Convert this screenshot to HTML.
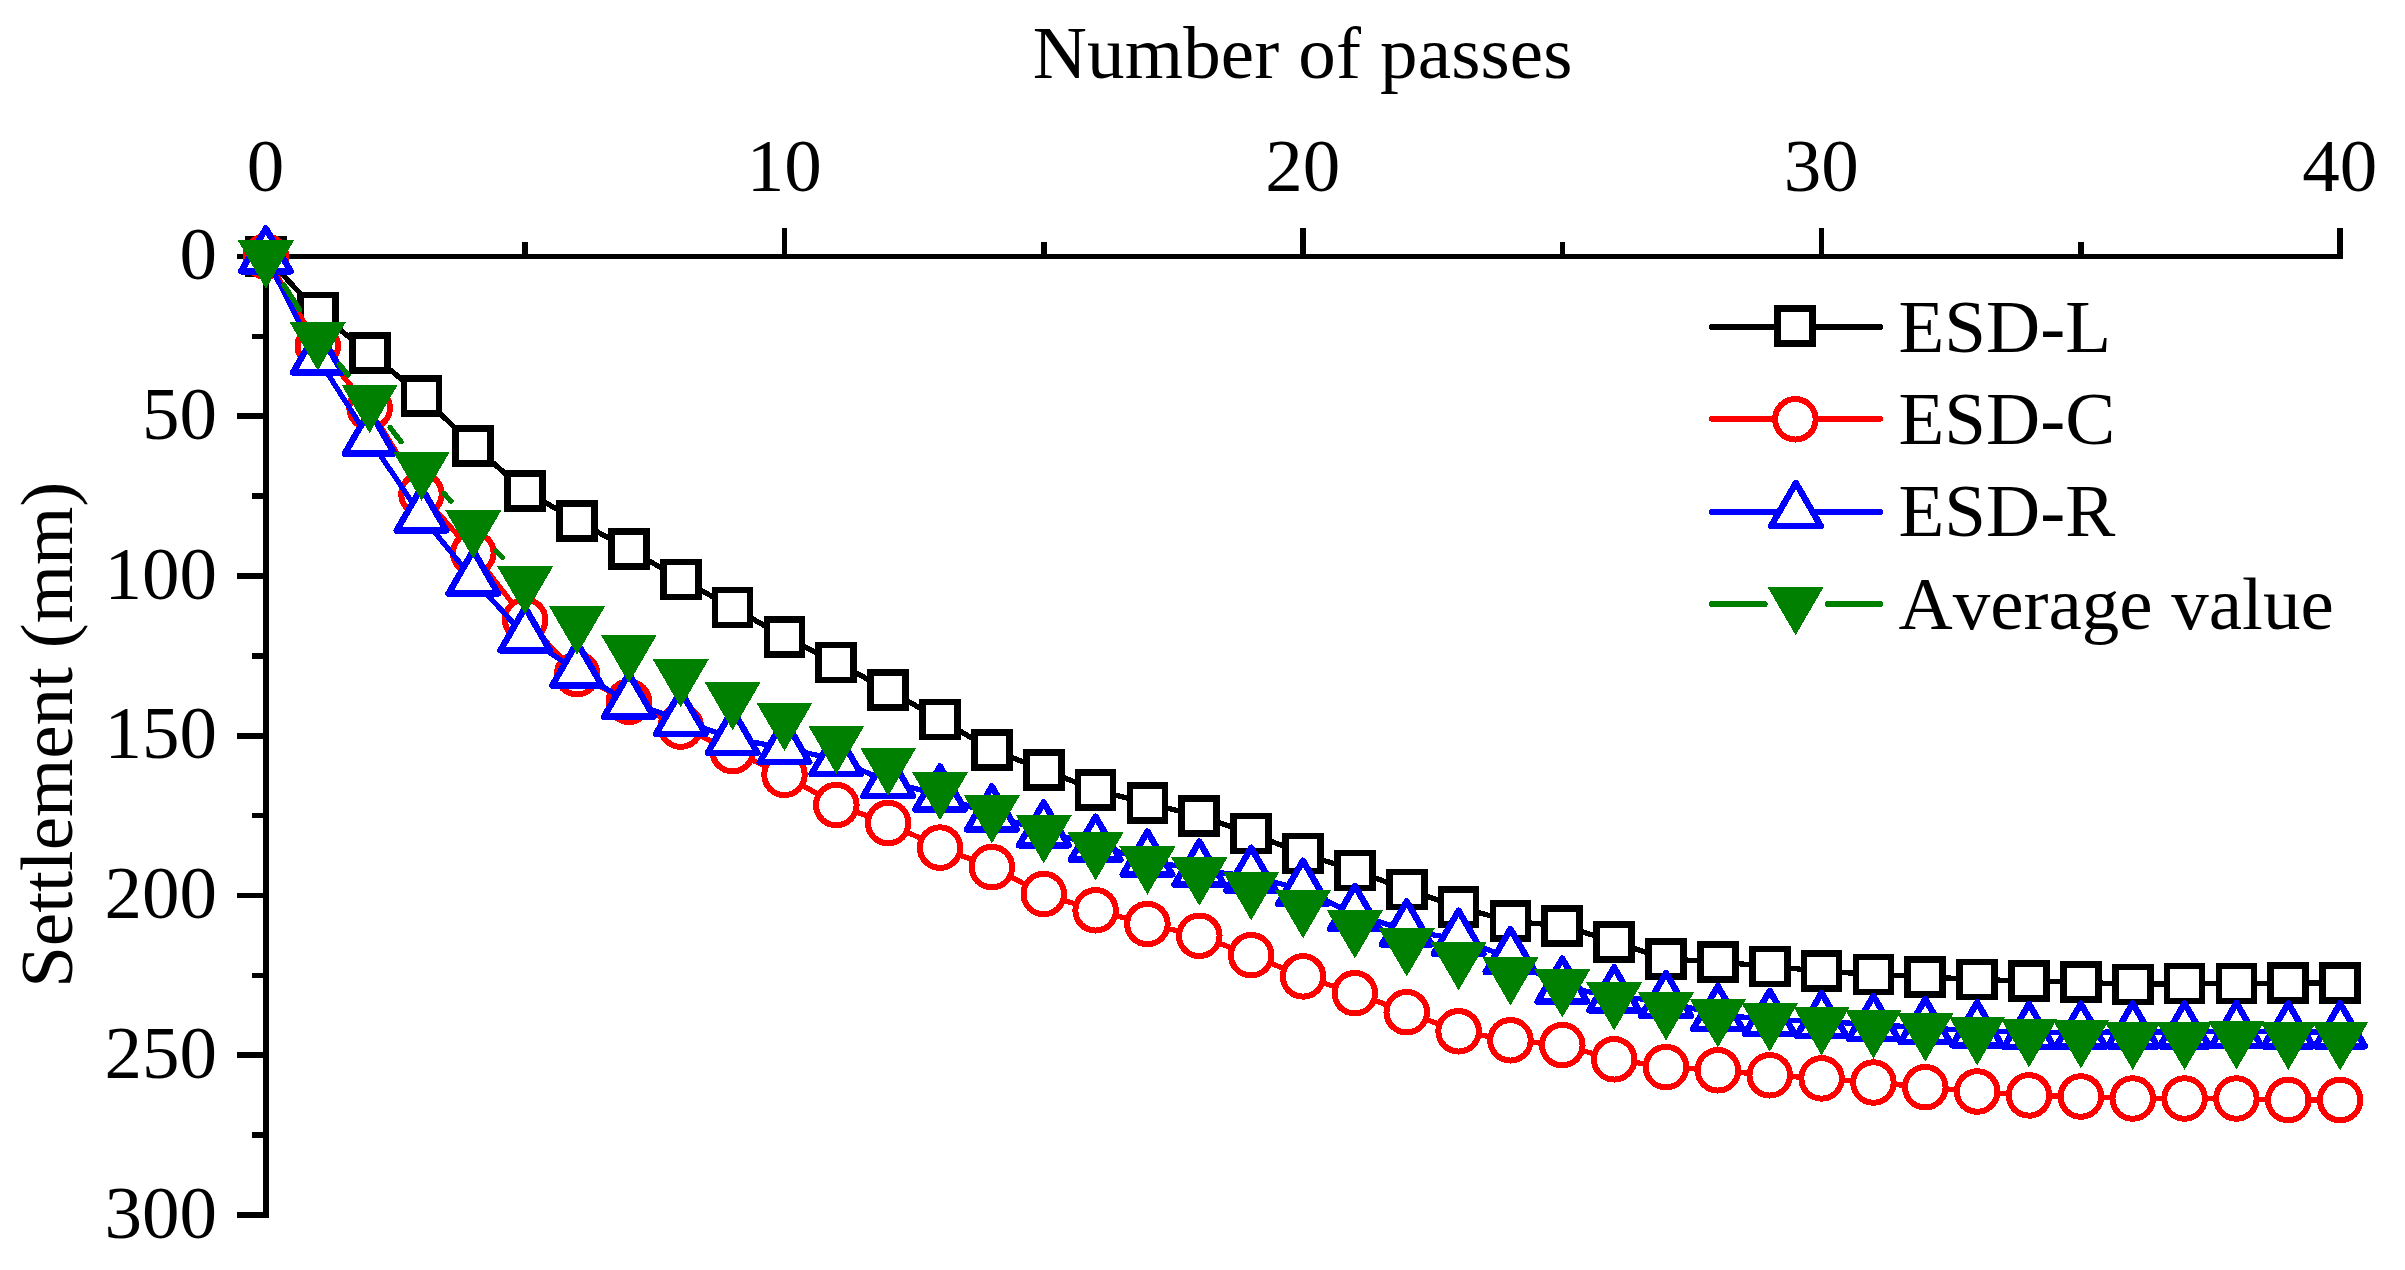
<!DOCTYPE html>
<html lang="en"><head><meta charset="utf-8"><title>Settlement vs number of passes</title>
<style>
html,body{margin:0;padding:0;background:#fff;}
body{width:2405px;height:1270px;overflow:hidden;}
svg{display:block;}
rect,line,polyline,polygon,circle,path{shape-rendering:crispEdges;}
text{font-family:"Liberation Serif",serif;font-size:75px;fill:#000;font-kerning:none;}
.ax{fill:#000;}
.ln{fill:none;stroke-width:5.3;stroke-linejoin:round;stroke-linecap:round;}
.mk{stroke-width:6.2;}.sq{stroke-width:6.8;}.ci{stroke-width:6;}.tu{stroke-width:6.4;}.lg{stroke-width:6;}
</style></head><body>
<svg width="2405" height="1270" viewBox="0 0 2405 1270">
<rect width="2405" height="1270" fill="#fff"/>
<g class="ax">
<rect x="263.1" y="254" width="2079.84" height="5.2"/>
<rect x="263.1" y="254" width="6" height="963.8"/>
<rect x="263.1" y="228" width="5.6" height="28.5"/>
<rect x="522.38" y="242.3" width="5.6" height="14.2"/>
<rect x="781.66" y="228" width="5.6" height="28.5"/>
<rect x="1040.94" y="242.3" width="5.6" height="14.2"/>
<rect x="1300.22" y="228" width="5.6" height="28.5"/>
<rect x="1559.5" y="242.3" width="5.6" height="14.2"/>
<rect x="1818.78" y="228" width="5.6" height="28.5"/>
<rect x="2078.06" y="242.3" width="5.6" height="14.2"/>
<rect x="2337.34" y="228" width="5.6" height="28.5"/>
<rect x="237" y="253.7" width="28.9" height="5.6"/>
<rect x="252" y="333.57" width="13.9" height="5.6"/>
<rect x="237" y="413.45" width="28.9" height="5.6"/>
<rect x="252" y="493.32" width="13.9" height="5.6"/>
<rect x="237" y="573.2" width="28.9" height="5.6"/>
<rect x="252" y="653.08" width="13.9" height="5.6"/>
<rect x="237" y="732.95" width="28.9" height="5.6"/>
<rect x="252" y="812.83" width="13.9" height="5.6"/>
<rect x="237" y="892.7" width="28.9" height="5.6"/>
<rect x="252" y="972.58" width="13.9" height="5.6"/>
<rect x="237" y="1052.45" width="28.9" height="5.6"/>
<rect x="252" y="1132.33" width="13.9" height="5.6"/>
<rect x="237" y="1212.2" width="28.9" height="5.6"/>
</g>
<g text-anchor="middle">
<text x="265.6" y="190.7">0</text>
<text x="784.16" y="190.7">10</text>
<text x="1302.72" y="190.7">20</text>
<text x="1821.28" y="190.7">30</text>
<text x="2339.84" y="190.7">40</text>
<text x="1302.7" y="77.7" style="letter-spacing:0.16px">Number of passes</text>
<text transform="translate(72.3 734.8) rotate(-90)">Settlement (mm)</text>
</g>
<g text-anchor="end">
<text x="216.9" y="279.2">0</text>
<text x="216.9" y="438.95">50</text>
<text x="216.9" y="598.7">100</text>
<text x="216.9" y="758.45">150</text>
<text x="216.9" y="918.2">200</text>
<text x="216.9" y="1077.95">250</text>
<text x="216.9" y="1237.7">300</text>
</g>
<g stroke="#000000">
<polyline class="ln" points="265.9,256.5 317.76,312.5 369.61,353 421.47,395.6 473.32,445.6 525.18,491 577.04,520.8 628.89,549 680.75,579.4 732.6,607.5 784.46,637 836.32,662.5 888.17,690.1 940.03,719.4 991.88,749.7 1043.74,769.9 1095.6,790 1147.45,803.3 1199.31,816 1251.16,833.6 1303.02,853.6 1354.88,870.6 1406.73,889.4 1458.59,907.1 1510.44,921.3 1562.3,925.7 1614.16,941.7 1666.01,958.9 1717.87,961.9 1769.72,966.4 1821.58,971.1 1873.44,974.5 1925.29,976.8 1977.15,979.5 2029,981 2080.86,982.1 2132.72,984.6 2184.57,983.4 2236.43,983.4 2288.28,983.1 2340.14,983.1"/>
<g class="mk" fill="#fff" stroke-linejoin="miter">
<rect class="sq" x="248.4" y="239" width="35" height="35"/>
<rect class="sq" x="300.26" y="295" width="35" height="35"/>
<rect class="sq" x="352.11" y="335.5" width="35" height="35"/>
<rect class="sq" x="403.97" y="378.1" width="35" height="35"/>
<rect class="sq" x="455.82" y="428.1" width="35" height="35"/>
<rect class="sq" x="507.68" y="473.5" width="35" height="35"/>
<rect class="sq" x="559.54" y="503.3" width="35" height="35"/>
<rect class="sq" x="611.39" y="531.5" width="35" height="35"/>
<rect class="sq" x="663.25" y="561.9" width="35" height="35"/>
<rect class="sq" x="715.1" y="590" width="35" height="35"/>
<rect class="sq" x="766.96" y="619.5" width="35" height="35"/>
<rect class="sq" x="818.82" y="645" width="35" height="35"/>
<rect class="sq" x="870.67" y="672.6" width="35" height="35"/>
<rect class="sq" x="922.53" y="701.9" width="35" height="35"/>
<rect class="sq" x="974.38" y="732.2" width="35" height="35"/>
<rect class="sq" x="1026.24" y="752.4" width="35" height="35"/>
<rect class="sq" x="1078.1" y="772.5" width="35" height="35"/>
<rect class="sq" x="1129.95" y="785.8" width="35" height="35"/>
<rect class="sq" x="1181.81" y="798.5" width="35" height="35"/>
<rect class="sq" x="1233.66" y="816.1" width="35" height="35"/>
<rect class="sq" x="1285.52" y="836.1" width="35" height="35"/>
<rect class="sq" x="1337.38" y="853.1" width="35" height="35"/>
<rect class="sq" x="1389.23" y="871.9" width="35" height="35"/>
<rect class="sq" x="1441.09" y="889.6" width="35" height="35"/>
<rect class="sq" x="1492.94" y="903.8" width="35" height="35"/>
<rect class="sq" x="1544.8" y="908.2" width="35" height="35"/>
<rect class="sq" x="1596.66" y="924.2" width="35" height="35"/>
<rect class="sq" x="1648.51" y="941.4" width="35" height="35"/>
<rect class="sq" x="1700.37" y="944.4" width="35" height="35"/>
<rect class="sq" x="1752.22" y="948.9" width="35" height="35"/>
<rect class="sq" x="1804.08" y="953.6" width="35" height="35"/>
<rect class="sq" x="1855.94" y="957" width="35" height="35"/>
<rect class="sq" x="1907.79" y="959.3" width="35" height="35"/>
<rect class="sq" x="1959.65" y="962" width="35" height="35"/>
<rect class="sq" x="2011.5" y="963.5" width="35" height="35"/>
<rect class="sq" x="2063.36" y="964.6" width="35" height="35"/>
<rect class="sq" x="2115.22" y="967.1" width="35" height="35"/>
<rect class="sq" x="2167.07" y="965.9" width="35" height="35"/>
<rect class="sq" x="2218.93" y="965.9" width="35" height="35"/>
<rect class="sq" x="2270.78" y="965.6" width="35" height="35"/>
<rect class="sq" x="2322.64" y="965.6" width="35" height="35"/>
</g></g>
<g stroke="#ff0000">
<polyline class="ln" points="265.9,256.5 317.76,346 369.61,408 421.47,494 473.32,553 525.18,619.8 577.04,674.2 628.89,701.7 680.75,726.6 732.6,751.1 784.46,774.8 836.32,805 888.17,823 940.03,847.6 991.88,867.1 1043.74,894 1095.6,910.3 1147.45,924 1199.31,935.8 1251.16,955.2 1303.02,976.4 1354.88,993.2 1406.73,1012.2 1458.59,1031.3 1510.44,1040.3 1562.3,1045.1 1614.16,1059.3 1666.01,1067.1 1717.87,1070.3 1769.72,1075.3 1821.58,1078.4 1873.44,1082.5 1925.29,1087.2 1977.15,1091.5 2029,1095.4 2080.86,1096.5 2132.72,1098.5 2184.57,1098.5 2236.43,1098.5 2288.28,1100 2340.14,1100"/>
<g class="mk" fill="#fff" stroke-linejoin="round">
<circle class="ci" cx="265.9" cy="256.5" r="20.25"/>
<circle class="ci" cx="317.76" cy="346" r="20.25"/>
<circle class="ci" cx="369.61" cy="408" r="20.25"/>
<circle class="ci" cx="421.47" cy="494" r="20.25"/>
<circle class="ci" cx="473.32" cy="553" r="20.25"/>
<circle class="ci" cx="525.18" cy="619.8" r="20.25"/>
<circle class="ci" cx="577.04" cy="674.2" r="20.25"/>
<circle class="ci" cx="628.89" cy="701.7" r="20.25"/>
<circle class="ci" cx="680.75" cy="726.6" r="20.25"/>
<circle class="ci" cx="732.6" cy="751.1" r="20.25"/>
<circle class="ci" cx="784.46" cy="774.8" r="20.25"/>
<circle class="ci" cx="836.32" cy="805" r="20.25"/>
<circle class="ci" cx="888.17" cy="823" r="20.25"/>
<circle class="ci" cx="940.03" cy="847.6" r="20.25"/>
<circle class="ci" cx="991.88" cy="867.1" r="20.25"/>
<circle class="ci" cx="1043.74" cy="894" r="20.25"/>
<circle class="ci" cx="1095.6" cy="910.3" r="20.25"/>
<circle class="ci" cx="1147.45" cy="924" r="20.25"/>
<circle class="ci" cx="1199.31" cy="935.8" r="20.25"/>
<circle class="ci" cx="1251.16" cy="955.2" r="20.25"/>
<circle class="ci" cx="1303.02" cy="976.4" r="20.25"/>
<circle class="ci" cx="1354.88" cy="993.2" r="20.25"/>
<circle class="ci" cx="1406.73" cy="1012.2" r="20.25"/>
<circle class="ci" cx="1458.59" cy="1031.3" r="20.25"/>
<circle class="ci" cx="1510.44" cy="1040.3" r="20.25"/>
<circle class="ci" cx="1562.3" cy="1045.1" r="20.25"/>
<circle class="ci" cx="1614.16" cy="1059.3" r="20.25"/>
<circle class="ci" cx="1666.01" cy="1067.1" r="20.25"/>
<circle class="ci" cx="1717.87" cy="1070.3" r="20.25"/>
<circle class="ci" cx="1769.72" cy="1075.3" r="20.25"/>
<circle class="ci" cx="1821.58" cy="1078.4" r="20.25"/>
<circle class="ci" cx="1873.44" cy="1082.5" r="20.25"/>
<circle class="ci" cx="1925.29" cy="1087.2" r="20.25"/>
<circle class="ci" cx="1977.15" cy="1091.5" r="20.25"/>
<circle class="ci" cx="2029" cy="1095.4" r="20.25"/>
<circle class="ci" cx="2080.86" cy="1096.5" r="20.25"/>
<circle class="ci" cx="2132.72" cy="1098.5" r="20.25"/>
<circle class="ci" cx="2184.57" cy="1098.5" r="20.25"/>
<circle class="ci" cx="2236.43" cy="1098.5" r="20.25"/>
<circle class="ci" cx="2288.28" cy="1100" r="20.25"/>
<circle class="ci" cx="2340.14" cy="1100" r="20.25"/>
</g></g>
<g stroke="#0000ff">
<polyline class="ln" points="265.9,257 317.76,358.2 369.61,439.2 421.47,516.2 473.32,579.2 525.18,636.1 577.04,671.1 628.89,702.3 680.75,719.7 732.6,738.4 784.46,747.9 836.32,759.6 888.17,781.6 940.03,795.1 991.88,815.1 1043.74,831 1095.6,845.3 1147.45,860.2 1199.31,870.2 1251.16,876.4 1303.02,889.4 1354.88,914.6 1406.73,930.1 1458.59,939.3 1510.44,957.7 1562.3,987.3 1614.16,996 1666.01,1001.6 1717.87,1014.8 1769.72,1019.5 1821.58,1021.5 1873.44,1024.5 1925.29,1027.7 1977.15,1031 2029,1032.5 2080.86,1032.3 2132.72,1032 2184.57,1032 2236.43,1031.5 2288.28,1032 2340.14,1032"/>
<g class="mk" fill="#fff" stroke-linejoin="round">
<polygon class="tu" points="265.9,228.36 290.7,271.32 241.1,271.32"/>
<polygon class="tu" points="317.76,329.56 342.56,372.52 292.96,372.52"/>
<polygon class="tu" points="369.61,410.56 394.41,453.52 344.81,453.52"/>
<polygon class="tu" points="421.47,487.56 446.27,530.52 396.67,530.52"/>
<polygon class="tu" points="473.32,550.56 498.12,593.52 448.52,593.52"/>
<polygon class="tu" points="525.18,607.46 549.98,650.42 500.38,650.42"/>
<polygon class="tu" points="577.04,642.46 601.84,685.42 552.24,685.42"/>
<polygon class="tu" points="628.89,673.66 653.69,716.62 604.09,716.62"/>
<polygon class="tu" points="680.75,691.06 705.55,734.02 655.95,734.02"/>
<polygon class="tu" points="732.6,709.76 757.4,752.72 707.8,752.72"/>
<polygon class="tu" points="784.46,719.26 809.26,762.22 759.66,762.22"/>
<polygon class="tu" points="836.32,730.96 861.12,773.92 811.52,773.92"/>
<polygon class="tu" points="888.17,752.96 912.97,795.92 863.37,795.92"/>
<polygon class="tu" points="940.03,766.46 964.83,809.42 915.23,809.42"/>
<polygon class="tu" points="991.88,786.46 1016.68,829.42 967.08,829.42"/>
<polygon class="tu" points="1043.74,802.36 1068.54,845.32 1018.94,845.32"/>
<polygon class="tu" points="1095.6,816.66 1120.4,859.62 1070.8,859.62"/>
<polygon class="tu" points="1147.45,831.56 1172.25,874.52 1122.65,874.52"/>
<polygon class="tu" points="1199.31,841.56 1224.11,884.52 1174.51,884.52"/>
<polygon class="tu" points="1251.16,847.76 1275.96,890.72 1226.36,890.72"/>
<polygon class="tu" points="1303.02,860.76 1327.82,903.72 1278.22,903.72"/>
<polygon class="tu" points="1354.88,885.96 1379.68,928.92 1330.08,928.92"/>
<polygon class="tu" points="1406.73,901.46 1431.53,944.42 1381.93,944.42"/>
<polygon class="tu" points="1458.59,910.66 1483.39,953.62 1433.79,953.62"/>
<polygon class="tu" points="1510.44,929.06 1535.24,972.02 1485.64,972.02"/>
<polygon class="tu" points="1562.3,958.66 1587.1,1001.62 1537.5,1001.62"/>
<polygon class="tu" points="1614.16,967.36 1638.96,1010.32 1589.36,1010.32"/>
<polygon class="tu" points="1666.01,972.96 1690.81,1015.92 1641.21,1015.92"/>
<polygon class="tu" points="1717.87,986.16 1742.67,1029.12 1693.07,1029.12"/>
<polygon class="tu" points="1769.72,990.86 1794.52,1033.82 1744.92,1033.82"/>
<polygon class="tu" points="1821.58,992.86 1846.38,1035.82 1796.78,1035.82"/>
<polygon class="tu" points="1873.44,995.86 1898.24,1038.82 1848.64,1038.82"/>
<polygon class="tu" points="1925.29,999.06 1950.09,1042.02 1900.49,1042.02"/>
<polygon class="tu" points="1977.15,1002.36 2001.95,1045.32 1952.35,1045.32"/>
<polygon class="tu" points="2029,1003.86 2053.8,1046.82 2004.2,1046.82"/>
<polygon class="tu" points="2080.86,1003.66 2105.66,1046.62 2056.06,1046.62"/>
<polygon class="tu" points="2132.72,1003.36 2157.52,1046.32 2107.92,1046.32"/>
<polygon class="tu" points="2184.57,1003.36 2209.37,1046.32 2159.77,1046.32"/>
<polygon class="tu" points="2236.43,1002.86 2261.23,1045.82 2211.63,1045.82"/>
<polygon class="tu" points="2288.28,1003.36 2313.08,1046.32 2263.48,1046.32"/>
<polygon class="tu" points="2340.14,1003.36 2364.94,1046.32 2315.34,1046.32"/>
</g></g>
<g stroke="#008000">
<path class="ln" d="M283.92 284.92L299.74 309.88M339.22 364.21L348.15 374.99M390.13 427.57L400.95 441.63M443.9 493.39L450.9 501.21M496.21 550.97L502.29 557.53"/>
<g fill="#008000" stroke="none">
<polygon points="237.8,240.37 294,240.37 265.9,288.77"/>
<polygon points="289.66,322.17 345.86,322.17 317.76,370.57"/>
<polygon points="341.51,384.77 397.71,384.77 369.61,433.17"/>
<polygon points="393.37,452.17 449.57,452.17 421.47,500.57"/>
<polygon points="445.22,510.17 501.42,510.17 473.32,558.57"/>
<polygon points="497.08,566.07 553.28,566.07 525.18,614.47"/>
<polygon points="548.94,606.07 605.14,606.07 577.04,654.47"/>
<polygon points="600.79,634.57 656.99,634.57 628.89,682.97"/>
<polygon points="652.65,659.07 708.85,659.07 680.75,707.47"/>
<polygon points="704.5,681.97 760.7,681.97 732.6,730.37"/>
<polygon points="756.36,702.67 812.56,702.67 784.46,751.07"/>
<polygon points="808.22,725.67 864.42,725.67 836.32,774.07"/>
<polygon points="860.07,747.67 916.27,747.67 888.17,796.07"/>
<polygon points="911.93,771.87 968.13,771.87 940.03,820.27"/>
<polygon points="963.78,795.07 1019.98,795.07 991.88,843.47"/>
<polygon points="1015.64,814.97 1071.84,814.97 1043.74,863.37"/>
<polygon points="1067.5,832.07 1123.7,832.07 1095.6,880.47"/>
<polygon points="1119.35,846.27 1175.55,846.27 1147.45,894.67"/>
<polygon points="1171.21,857.47 1227.41,857.47 1199.31,905.87"/>
<polygon points="1223.06,871.97 1279.26,871.97 1251.16,920.37"/>
<polygon points="1274.92,889.97 1331.12,889.97 1303.02,938.37"/>
<polygon points="1326.78,910.17 1382.98,910.17 1354.88,958.57"/>
<polygon points="1378.63,928.17 1434.83,928.17 1406.73,976.57"/>
<polygon points="1430.49,941.97 1486.69,941.97 1458.59,990.37"/>
<polygon points="1482.34,957.17 1538.54,957.17 1510.44,1005.57"/>
<polygon points="1534.2,969.17 1590.4,969.17 1562.3,1017.57"/>
<polygon points="1586.06,982.07 1642.26,982.07 1614.16,1030.47"/>
<polygon points="1637.91,992.07 1694.11,992.07 1666.01,1040.47"/>
<polygon points="1689.77,999.07 1745.97,999.07 1717.87,1047.47"/>
<polygon points="1741.62,1003.27 1797.82,1003.27 1769.72,1051.67"/>
<polygon points="1793.48,1006.97 1849.68,1006.97 1821.58,1055.37"/>
<polygon points="1845.34,1010.27 1901.54,1010.27 1873.44,1058.67"/>
<polygon points="1897.19,1013.27 1953.39,1013.27 1925.29,1061.67"/>
<polygon points="1949.05,1016.97 2005.25,1016.97 1977.15,1065.37"/>
<polygon points="2000.9,1018.97 2057.1,1018.97 2029,1067.37"/>
<polygon points="2052.76,1020.07 2108.96,1020.07 2080.86,1068.47"/>
<polygon points="2104.62,1021.57 2160.82,1021.57 2132.72,1069.97"/>
<polygon points="2156.47,1021.57 2212.67,1021.57 2184.57,1069.97"/>
<polygon points="2208.33,1021.07 2264.53,1021.07 2236.43,1069.47"/>
<polygon points="2260.18,1021.57 2316.38,1021.57 2288.28,1069.97"/>
<polygon points="2312.04,1022.07 2368.24,1022.07 2340.14,1070.47"/>
</g></g>
<g stroke="#000000">
<line class="ln lg" x1="1712" y1="326.9" x2="1880" y2="326.9"/>
<g class="mk" fill="#fff" stroke-linejoin="miter"><rect class="sq" x="1777.55" y="308.5" width="35" height="35"/></g>
</g>
<text x="1898.5" y="351.8">ESD-L</text>
<g stroke="#ff0000">
<line class="ln lg" x1="1712" y1="418.8" x2="1880" y2="418.8"/>
<g class="mk" fill="#fff" stroke-linejoin="round"><circle class="ci" cx="1795.4" cy="419.3" r="20.25"/></g>
</g>
<text x="1898.5" y="444.1">ESD-C</text>
<g stroke="#0000ff">
<line class="ln lg" x1="1712" y1="512" x2="1880" y2="512"/>
<g class="mk" fill="#fff" stroke-linejoin="round"><polygon class="tu" points="1795.9,482.96 1820.7,525.92 1771.1,525.92"/></g>
</g>
<text x="1898.5" y="536.4">ESD-R</text>
<g stroke="#008000">
<line class="ln lg" x1="1712" y1="604.1" x2="1764.6" y2="604.1"/>
<line class="ln lg" x1="1827.6" y1="604.1" x2="1880" y2="604.1"/>
<g fill="#008000" stroke="none"><polygon points="1767.5,586.87 1823.7,586.87 1795.6,635.27"/></g>
</g>
<text x="1898.5" y="628.7">Average value</text>
</svg>
</body></html>
